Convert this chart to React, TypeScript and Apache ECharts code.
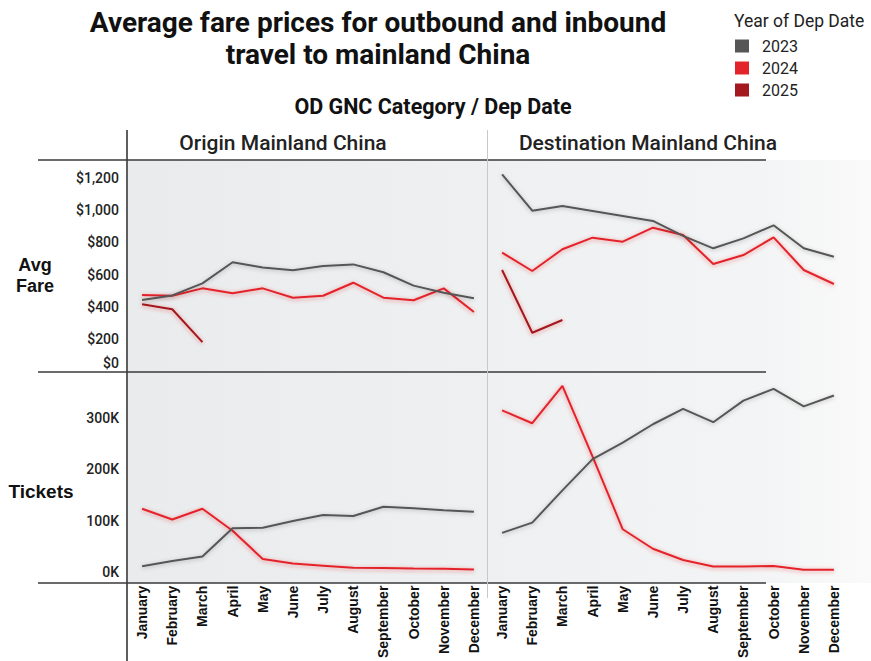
import React, { useEffect, useRef } from "react";
import * as echarts from "echarts";

const months = ["January","February","March","April","May","June","July","August","September","October","November","December"];
const years = ["2023", "2024", "2025"];
const yearColors = ["#565656", "#e3242b", "#a3191f"];

const fareOrigin2023 = [441, 470, 545, 676, 643, 626, 653, 663, 614, 531, 487, 452];
const fareOrigin2024 = [473, 468, 514, 483, 514, 456, 468, 549, 456, 440, 514, 367];
const fareOrigin2025 = [415, 384, 180];
const fareDest2023 = [1223, 997, 1026, 995, 964, 933, 840, 763, 825, 906, 763, 711];
const fareDest2024 = [736, 622, 757, 829, 804, 891, 846, 665, 721, 831, 628, 541];
const fareDest2025 = [628, 238, 317];
const ticketsOrigin2023 = [11000, 21000, 30000, 85000, 86000, 99000, 111000, 109000, 127000, 124000, 120000, 117000];
const ticketsOrigin2024 = [123000, 102000, 123000, 80000, 25000, 16000, 12000, 8000, 7600, 6300, 5700, 4400];
const ticketsOrigin2025 = [4000, 4000, 4000];
const ticketsDest2023 = [76000, 96000, 159000, 220000, 252000, 288000, 318000, 292000, 334000, 357000, 323000, 344000];
const ticketsDest2024 = [315000, 290000, 363000, 225000, 83000, 45000, 23000, 10500, 10500, 11500, 4000, 4000];
const ticketsDest2025 = [2000, 2000, 2000];

const fareTicks = [0, 200, 400, 600, 800, 1000, 1200];
const ticketTicks = [0, 100000, 200000, 300000];

const panelTitles = ["Origin Mainland China", "Destination Mainland China"];
const rowTitles = ["Avg\nFare", "Tickets"];

export default function App() {
  const ref = useRef<HTMLDivElement>(null);
  useEffect(() => {
    if (!ref.current) return;
    const chart = echarts.init(ref.current, null, { renderer: "svg" });
    const grids = [
      { left: 127, top: 160, width: 362, height: 212 },
      { left: 487, top: 160, width: 362, height: 212 },
      { left: 127, top: 372, width: 362, height: 211 },
      { left: 487, top: 372, width: 362, height: 211 },
    ];
    const labelFont = { fontFamily: "Roboto", fontSize: 14, fontWeight: 500, color: "#222" };
    const xAxis = grids.map((_, i) => ({
      type: "category",
      gridIndex: i,
      data: months,
      boundaryGap: true,
      axisLine: { show: false },
      axisTick: { show: false },
      axisLabel: {
        show: i >= 2,
        rotate: 90,
        margin: 7,
        fontFamily: "Liberation Sans",
        fontWeight: "bold",
        fontSize: 14,
        color: "#111",
        interval: 0,
      },
    }));
    const yAxis = grids.map((_, i) => {
      const isFare = i < 2;
      return {
        type: "value",
        gridIndex: i,
        min: isFare ? -6 : -13400,
        max: isFare ? 1312 : 390000,
        splitLine: { show: false },
        axisLine: { show: false },
        axisTick: { show: false },
        axisLabel: {
          show: i % 2 === 0,
          customValues: isFare ? fareTicks : ticketTicks,
          margin: 8,
          ...labelFont,
          formatter: (v: number) => {
            if (isFare) {
              const s = "$" + v.toLocaleString("en-US");
              return v === 0 ? "{z|" + s + "}" : s;
            }
            return v / 1000 + "K";
          },
          rich: { z: { ...labelFont, padding: [0, 0, 16, 0] } },
        },
      };
    });
    const seriesData = [
      [fareOrigin2023, fareOrigin2024, fareOrigin2025],
      [fareDest2023, fareDest2024, fareDest2025],
      [ticketsOrigin2023, ticketsOrigin2024, ticketsOrigin2025],
      [ticketsDest2023, ticketsDest2024, ticketsDest2025],
    ];
    const series: any[] = [];
    seriesData.forEach((group, gi) => {
      group.forEach((data, yi) => {
        series.push({
          type: "line",
          name: years[yi],
          xAxisIndex: gi,
          yAxisIndex: gi,
          data,
          symbol: "none",
          color: yearColors[yi],
          lineStyle: {
            width: 2,
            color: yearColors[yi],
            shadowBlur: 4,
            shadowColor: yi === 0 ? "rgba(0,0,0,0.25)" : "rgba(230,40,40,0.45)",
            shadowOffsetY: 1,
          },
          z: 3 + (2 - yi),
        });
      });
    });
    const line = (x1: number, y1: number, x2: number, y2: number, color = "#3a3a3a", w = 1.5) => ({
      type: "line",
      shape: { x1, y1, x2, y2 },
      style: { stroke: color, lineWidth: w },
      z: 10,
    });
    const text = (t: string, x: number, y: number, font: string, align = "center", extra: any = {}) => ({
      type: "text",
      x,
      y,
      style: { text: t, font, fill: "#111", align, verticalAlign: "middle", ...extra },
      z: 10,
    });
    chart.setOption({
      animation: false,
      backgroundColor: "#ffffff",
      grid: grids,
      xAxis,
      yAxis,
      series,
      legend: {
        data: years,
        orient: "vertical",
        left: 730,
        top: 33,
        icon: "rect",
        itemWidth: 14,
        itemHeight: 13,
        itemGap: 6,
        textStyle: { fontFamily: "Roboto", fontSize: 16, lineHeight: 13, color: "#222", padding: [0, 0, 0, 8] },
      },
      graphic: [
        {
          type: "rect",
          shape: { x: 128, y: 160, width: 743, height: 423 },
          style: {
            fill: new echarts.graphic.LinearGradient(0, 0, 1, 0, [
              { offset: 0, color: "#e9ebed" },
              { offset: 0.5, color: "#eef0f1" },
              { offset: 0.85, color: "#f3f4f5" },
              { offset: 1, color: "#fafafa" },
            ]),
          },
          z: -10,
        },
        line(127, 130, 127, 661, "#2a2a2a", 1.5),
        line(38, 160, 766, 160),
        line(38, 372, 766, 372),
        line(38, 583, 766, 583),
        line(487.5, 130, 487.5, 598, "#c8c8c8", 1),
        text("Average fare prices for outbound and inbound", 378, 22, "bold 28px Roboto"),
        text("travel to mainland China", 378, 54, "bold 28px Roboto"),
        text("OD GNC Category / Dep Date", 433, 106, "bold 21.5px Roboto"),
        text("Year of Dep Date", 734, 21, "17.5px Roboto", "left", { fill: "#222" }),
        text(panelTitles[0], 283, 143, "500 21px Roboto", "center", { fill: "#222" }),
        text(panelTitles[1], 648, 143, "500 21px Roboto", "center", { fill: "#222" }),
        text(rowTitles[0], 35, 275, "bold 18px 'Liberation Sans'", "center", { lineHeight: 21 }),
        text(rowTitles[1], 41, 491, "bold 19px 'Liberation Sans'"),
      ],
    });
    return () => chart.dispose();
  }, []);
  return <div ref={ref} style={{ position: "fixed", left: 0, top: 0, width: 871, height: 661 }} />;
}
